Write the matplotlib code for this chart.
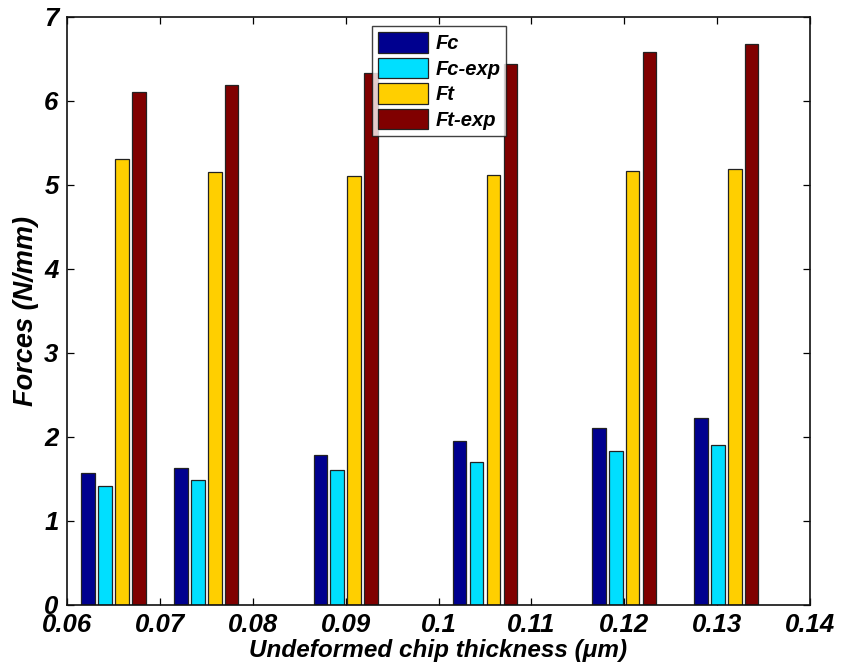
import matplotlib
matplotlib.use("Agg")
import matplotlib.pyplot as plt
import numpy as np

# Undeformed chip thickness (um) and cutting / thrust forces (N/mm)
thickness = [0.065, 0.075, 0.09, 0.105, 0.12, 0.131]
fc = [1.57, 1.63, 1.78, 1.95, 2.11, 2.23]
fc_exp = [1.42, 1.49, 1.60, 1.70, 1.83, 1.90]
ft = [5.30, 5.15, 5.10, 5.12, 5.16, 5.19]
ft_exp = [6.10, 6.19, 6.33, 6.44, 6.58, 6.67]

series_names = ["Fc", "Fc-exp", "Ft", "Ft-exp"]
series_values = [fc, fc_exp, ft, ft_exp]
colors = ["#00008F", "#00DFFF", "#FFCF00", "#800000"]

xticks = [0.06, 0.07, 0.08, 0.09, 0.1, 0.11, 0.12, 0.13, 0.14]
xtick_labels = ["0.06", "0.07", "0.08", "0.09", "0.1", "0.11", "0.12", "0.13", "0.14"]
yticks = [0, 1, 2, 3, 4, 5, 6, 7]

FONT = "Liberation Sans"

fig = plt.figure(figsize=(8.43, 6.68), dpi=100)
ax = fig.add_axes([67 / 843, (668 - 605) / 668, (810 - 67) / 843, (605 - 16.5) / 668])

# grouped bars, MATLAB-style spacing based on the smallest x step
x = np.array(thickness)
min_step = np.min(np.diff(x))
n = len(series_values)
group_width = min(0.8, n / (n + 1.5))
spacing = group_width * min_step / n
bar_w = 0.8 * spacing
for i, (name, vals, c) in enumerate(zip(series_names, series_values, colors)):
    offset = (i - (n - 1) / 2) * spacing
    ax.bar(x + offset, vals, width=bar_w, color=c, edgecolor="#222222",
           linewidth=0.9, label=name, zorder=2)

ax.set_xlim(0.06, 0.14)
ax.set_ylim(0, 7)
ax.set_xticks(xticks)
ax.set_xticklabels(xtick_labels)
ax.set_yticks(yticks)

ax.tick_params(axis="both", direction="in", length=5, width=0.9,
               top=True, right=True, labelsize=18.5)
ax.tick_params(axis="x", pad=6)
ax.tick_params(axis="y", pad=6)
for lab in ax.get_xticklabels() + ax.get_yticklabels():
    lab.set_fontfamily(FONT)
    lab.set_fontweight("bold")
    lab.set_fontstyle("italic")

for sp in ax.spines.values():
    sp.set_linewidth(1.2)
    sp.set_color("#111111")

ax.set_xlabel("Undeformed chip thickness (μm)", fontfamily=FONT, fontweight="bold",
              fontstyle="italic", fontsize=17.5, labelpad=1)
ax.set_ylabel("Forces (N/mm)", fontfamily=FONT, fontweight="bold",
              fontstyle="italic", fontsize=19.5, labelpad=4)

leg = ax.legend(loc="upper left", bbox_to_anchor=((372 - 67) / 743, 1 - (26 - 16.5) / 588.5),
                prop={"family": FONT, "weight": "bold", "style": "italic", "size": 14.5},
                frameon=True, fancybox=False, edgecolor="#111111",
                handlelength=2.5, handleheight=1.2, handletextpad=0.35,
                labelspacing=0.22, borderpad=0.3, borderaxespad=0)
leg.get_frame().set_linewidth(1.0)

fig.savefig("out.png", dpi=100)
